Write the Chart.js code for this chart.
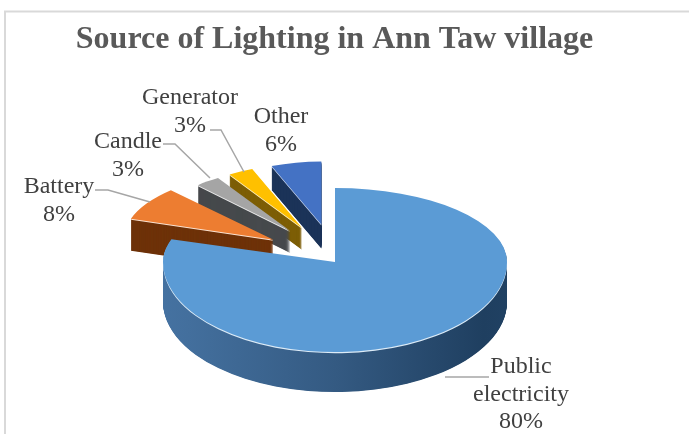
<!DOCTYPE html>
<html><head><meta charset="utf-8">
<style>html,body{margin:0;padding:0;background:#fff}canvas{display:block}</style>
<script src="https://cdn.jsdelivr.net/npm/chart.js@4"></script>
</head><body><div style="width:689px;height:434px;position:relative"><canvas id="c"></canvas></div>
<script>
const titleText = 'Source of Lighting in Ann Taw village';
const categories = ['Public electricity', 'Battery', 'Candle', 'Generator', 'Other'];
const shares = [80, 8, 3, 3, 6];
const explode = [0, 216, 216, 216, 216];
const topColors = ['#5b9bd5', '#ed7d31', '#a5a5a5', '#ffc000', '#4472c4'];
const wallColors = [null, '#6e3209', '#474a4d', '#7d5e06', '#1b3358'];
const edgeColors = ['#dcebf7', '#fbe3d2', '#ececec', '#fff0c0', '#c9d6ee'];
const wallDepths = [40, 32, 22, 22, 24];

const R = 100;
const BIG = {cx: 335, cy: 262, rx: 172, up: 74, down: 90};
const SMALL = {cx: 335, cy: 258, rx: 135, ry: 63};
const BAT = {x: 1.11, y: 1.08};

function ghost(arc, fill) {
  const p = Object.create(arc);
  p.options = {backgroundColor: fill, borderColor: fill, borderWidth: 0, offset: 0,
    circular: true, spacing: 0, borderAlign: 'center', borderRadius: 0, borderJoinStyle: 'round',
    borderDash: [], borderDashOffset: 0};
  return p;
}
function drawBig(ctx, arc, fill, dy) {
  const p = ghost(arc, fill);
  const yc = BIG.cy + dy;
  [[-2000, yc, BIG.up], [yc, 2000, BIG.down]].forEach(([a, b, ry]) => {
    ctx.save();
    ctx.beginPath();
    ctx.rect(0, a, 689, b - a);
    ctx.clip();
    ctx.translate(BIG.cx, yc);
    ctx.scale(BIG.rx / R, ry / R);
    ctx.translate(-arc.x, -arc.y);
    p.draw(ctx);
    ctx.restore();
  });
}
function drawSmall(ctx, arc, fill, dy, i) {
  const p = ghost(arc, fill);
  const mid = (arc.startAngle + arc.endAngle) / 2;
  const e = (arc.options.offset || 0) / 4;
  const tx = Math.cos(mid) * e * SMALL.rx / R, ty = Math.sin(mid) * e * SMALL.ry / R;
  ctx.save();
  ctx.translate(SMALL.cx + tx, SMALL.cy + ty + dy);
  const k = i === 1 ? BAT : {x: 1, y: 1};
  ctx.scale(k.x * SMALL.rx / R, k.y * SMALL.ry / R);
  ctx.translate(-arc.x, -arc.y);
  p.draw(ctx);
  ctx.restore();
}

const pie3d = {
  id: 'pie3d',
  beforeDatasetDraw(chart) {
    const ctx = chart.ctx;
    const arcs = chart.getDatasetMeta(0).data;
    [4, 3, 2, 1].forEach(i => {
      for (let d = wallDepths[i]; d >= 1; d -= 0.5) drawSmall(ctx, arcs[i], wallColors[i], d, i);
      drawSmall(ctx, arcs[i], edgeColors[i], 1, i);
      drawSmall(ctx, arcs[i], topColors[i], 0, i);
    });
    const g = ctx.createLinearGradient(BIG.cx - BIG.rx, 0, BIG.cx + BIG.rx, 0);
    g.addColorStop(0, '#4d7fb3');
    g.addColorStop(0.25, '#436f9d');
    g.addColorStop(0.5, '#345a82');
    g.addColorStop(0.75, '#1f3f60');
    g.addColorStop(1, '#264b70');
    for (let d = wallDepths[0]; d >= 1; d -= 0.5) drawBig(ctx, arcs[0], g, d);
    drawBig(ctx, arcs[0], edgeColors[0], 1.2);
    drawBig(ctx, arcs[0], topColors[0], 0);
    return false;
  },
  afterDatasetsDraw(chart) {
    const ctx = chart.ctx;
    ctx.save();
    ctx.strokeStyle = '#a6a6a6';
    ctx.lineWidth = 1.5;
    [[[95,190],[108,190],[150,202]], [[163,144],[175,144],[210,178]], [[210,130],[221,130],[244,172]], [[445,377],[489,377]]].forEach(pts => {
      ctx.beginPath();
      pts.forEach((q, n) => n ? ctx.lineTo(q[0], q[1]) : ctx.moveTo(q[0], q[1]));
      ctx.stroke();
    });
    ctx.fillStyle = '#404040';
    ctx.font = '24px "Liberation Serif"';
    ctx.textAlign = 'center';
    ctx.textBaseline = 'middle';
    const spots = [[521, 367], [59, 187], [128, 142], [190, 98], [281, 117]];
    categories.forEach((name, i) => {
      const lines = name.split(' ').concat(shares[i] + '%');
      lines.forEach((t, n) => ctx.fillText(t, spots[i][0], spots[i][1] + n * 27.5));
    });
    ctx.restore();
  },
  beforeDraw(chart) {
    const ctx = chart.ctx;
    ctx.save();
    ctx.strokeStyle = '#d9d9d9';
    ctx.lineWidth = 2;
    ctx.beginPath();
    ctx.moveTo(5, 434);
    ctx.lineTo(5, 11.5);
    ctx.lineTo(689, 11.5);
    ctx.stroke();
    ctx.restore();
  }
};

new Chart(document.getElementById('c'), {
  type: 'pie',
  data: {labels: categories, datasets: [{data: shares, backgroundColor: topColors, offset: explode, borderWidth: 0, radius: R}]},
  options: {
    responsive: true, maintainAspectRatio: false, animation: false,
    events: [],
    layout: {padding: {right: 20}},
    plugins: {
      legend: {display: false}, tooltip: {enabled: false},
      title: {display: true, text: titleText, color: '#595959', fullSize: false,
        font: {family: '"Liberation Serif"', size: 32, weight: 'bold'}, padding: {top: 21, bottom: 10}}
    }
  },
  plugins: [pie3d]
});
</script></body></html>
